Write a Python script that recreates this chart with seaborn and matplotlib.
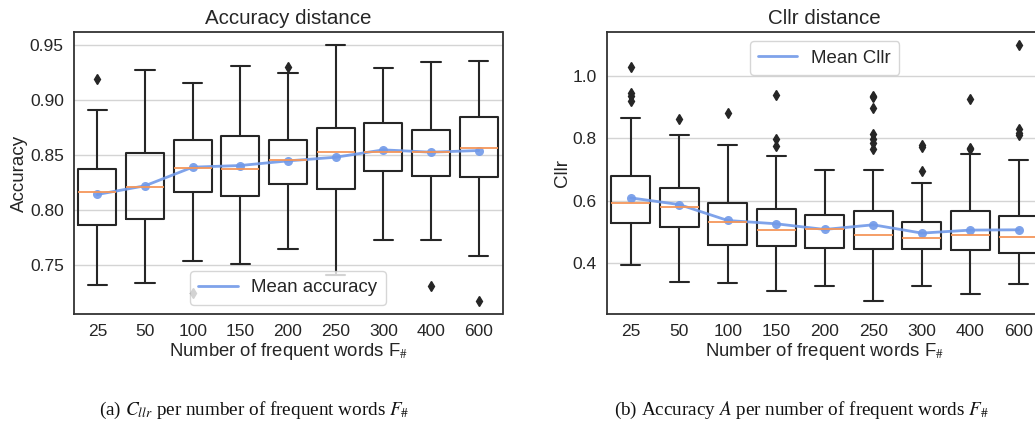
import numpy as np
import matplotlib
matplotlib.use("Agg")
import matplotlib.pyplot as plt
from matplotlib.lines import Line2D
import seaborn as sns

# Number of frequent words used as features
words = ["25", "50", "100", "150", "200", "250", "300", "400", "600"]

# Accuracy distance: five-number summaries, outliers and means
acc_whislo = [0.7325, 0.7340, 0.7539, 0.7515, 0.7648, 0.7410, 0.7729, 0.7729, 0.7584]
acc_q1 = [0.7865, 0.7919, 0.8161, 0.8124, 0.8233, 0.8191, 0.8351, 0.8311, 0.8299]
acc_med = [0.8161, 0.8206, 0.8381, 0.8372, 0.8456, 0.8529, 0.8532, 0.8529, 0.8565]
acc_q3 = [0.8372, 0.8517, 0.8637, 0.8670, 0.8637, 0.8746, 0.8791, 0.8731, 0.8845]
acc_whishi = [0.8909, 0.9271, 0.9156, 0.9307, 0.9241, 0.9500, 0.9289, 0.9343, 0.9349]
acc_fliers = [[0.9186], [], [0.7250], [], [0.9295], [], [], [0.7316], [0.7174]]
acc_mean = [0.8142, 0.8221, 0.8390, 0.8405, 0.8447, 0.8480, 0.8547, 0.8526, 0.8541]

# Cllr distance: five-number summaries, outliers and means
cllr_whislo = [0.3947, 0.3415, 0.3362, 0.3117, 0.3287, 0.2787, 0.3287, 0.3011, 0.3330]
cllr_q1 = [0.5287, 0.5149, 0.4585, 0.4543, 0.4500, 0.4457, 0.4457, 0.4436, 0.4319]
cllr_med = [0.5947, 0.5819, 0.5309, 0.5074, 0.5085, 0.4894, 0.4809, 0.4894, 0.4840]
cllr_q3 = [0.6809, 0.6426, 0.5926, 0.5734, 0.5543, 0.5681, 0.5330, 0.5681, 0.5521]
cllr_whishi = [0.8649, 0.8117, 0.7798, 0.7426, 0.7000, 0.7000, 0.6574, 0.7489, 0.7298]
cllr_fliers = [
    [1.030, 0.946, 0.935, 0.921],
    [0.861],
    [0.882],
    [0.938, 0.797, 0.776],
    [],
    [0.937, 0.933, 0.898, 0.813, 0.797, 0.786, 0.766],
    [0.779, 0.772, 0.697],
    [0.928, 0.770, 0.765],
    [1.100, 0.831, 0.818, 0.810],
]
cllr_mean = [0.6096, 0.5883, 0.5372, 0.5266, 0.5085, 0.5234, 0.4968, 0.5064, 0.5074]

sns.set_style("whitegrid")
plt.rcParams["font.family"] = ["Liberation Sans", "DejaVu Sans"]
plt.rcParams["mathtext.fontset"] = "stix"

INK = "#262626"
MEDIAN = "#f4965a"
MEAN = "#7199e8"


def box_stats(lo, q1, med, q3, hi, fliers):
    return [
        dict(whislo=a, q1=b, med=c, q3=d, whishi=e, fliers=f)
        for a, b, c, d, e, f in zip(lo, q1, med, q3, hi, fliers)
    ]


def draw_panel(ax, stats, means, title, ylabel, mean_label, legend_loc):
    pos = np.arange(len(words))
    ax.bxp(
        stats,
        positions=pos,
        widths=0.8,
        showfliers=True,
        boxprops=dict(color=INK, linewidth=1.5),
        whiskerprops=dict(color=INK, linewidth=1.5),
        capprops=dict(color=INK, linewidth=1.5),
        medianprops=dict(color=MEDIAN, linewidth=1.3),
        flierprops=dict(marker="d", markerfacecolor=INK, markeredgecolor=INK,
                        markersize=5.5, linestyle="none"),
    )
    sns.lineplot(x=pos, y=means, ax=ax, color=MEAN, linewidth=2, alpha=0.9,
                 marker="o", markersize=6.5, markeredgewidth=0, legend=False)
    ax.set_xlim(-0.5, len(words) - 0.5)
    ax.set_xticks(pos)
    ax.set_xticklabels(words)
    ax.grid(axis="x", visible=False)
    ax.grid(axis="y", color="#d4d4d4", linewidth=1)
    for s in ax.spines.values():
        s.set_color("#333333")
        s.set_linewidth(1.3)
    ax.tick_params(axis="both", labelsize=12.5, colors=INK, length=0, pad=7)
    ax.set_title(title, fontsize=14.8, color=INK, pad=6)
    ax.set_ylabel(ylabel, fontsize=13.5, color=INK, labelpad=1)
    ax.set_xlabel(r"Number of frequent words F$_{\#}$", fontsize=13.3, color=INK,
                  labelpad=2)
    handle = Line2D([], [], color=MEAN, linewidth=2, alpha=0.9)
    leg = ax.legend([handle], [mean_label], loc=legend_loc, fontsize=13.4,
                    handlelength=2.1, handletextpad=0.75, borderpad=0.45,
                    frameon=True)
    for t in leg.get_texts():
        t.set_color(INK)


fig = plt.figure(figsize=(10.35, 4.28), dpi=100)
W, H = 1035, 428
ax1 = fig.add_axes([73.5 / W, 1 - 314 / H, 429 / W, 282 / H])
ax2 = fig.add_axes([606.5 / W, 1 - 314 / H, 436.5 / W, 282 / H])

draw_panel(ax1,
           box_stats(acc_whislo, acc_q1, acc_med, acc_q3, acc_whishi, acc_fliers),
           acc_mean, "Accuracy distance", "Accuracy", "Mean accuracy",
           "lower center")
draw_panel(ax2,
           box_stats(cllr_whislo, cllr_q1, cllr_med, cllr_q3, cllr_whishi, cllr_fliers),
           cllr_mean, "Cllr distance", "Cllr", "Mean Cllr", "upper center")
ax2.set_yticks([0.4, 0.6, 0.8, 1.0])

cap_kw = dict(ha="center", va="center", fontsize=13.8, color="#111111",
              family="Liberation Serif")
fig.text(254 / W, 1 - 410 / H,
         r"(a) $C_{llr}$ per number of frequent words $F_{\#}$", **cap_kw)
fig.text(802 / W, 1 - 410 / H,
         r"(b) Accuracy $A$ per number of frequent words $F_{\#}$", **cap_kw)

fig.savefig("out.png", dpi=100, facecolor="white")
